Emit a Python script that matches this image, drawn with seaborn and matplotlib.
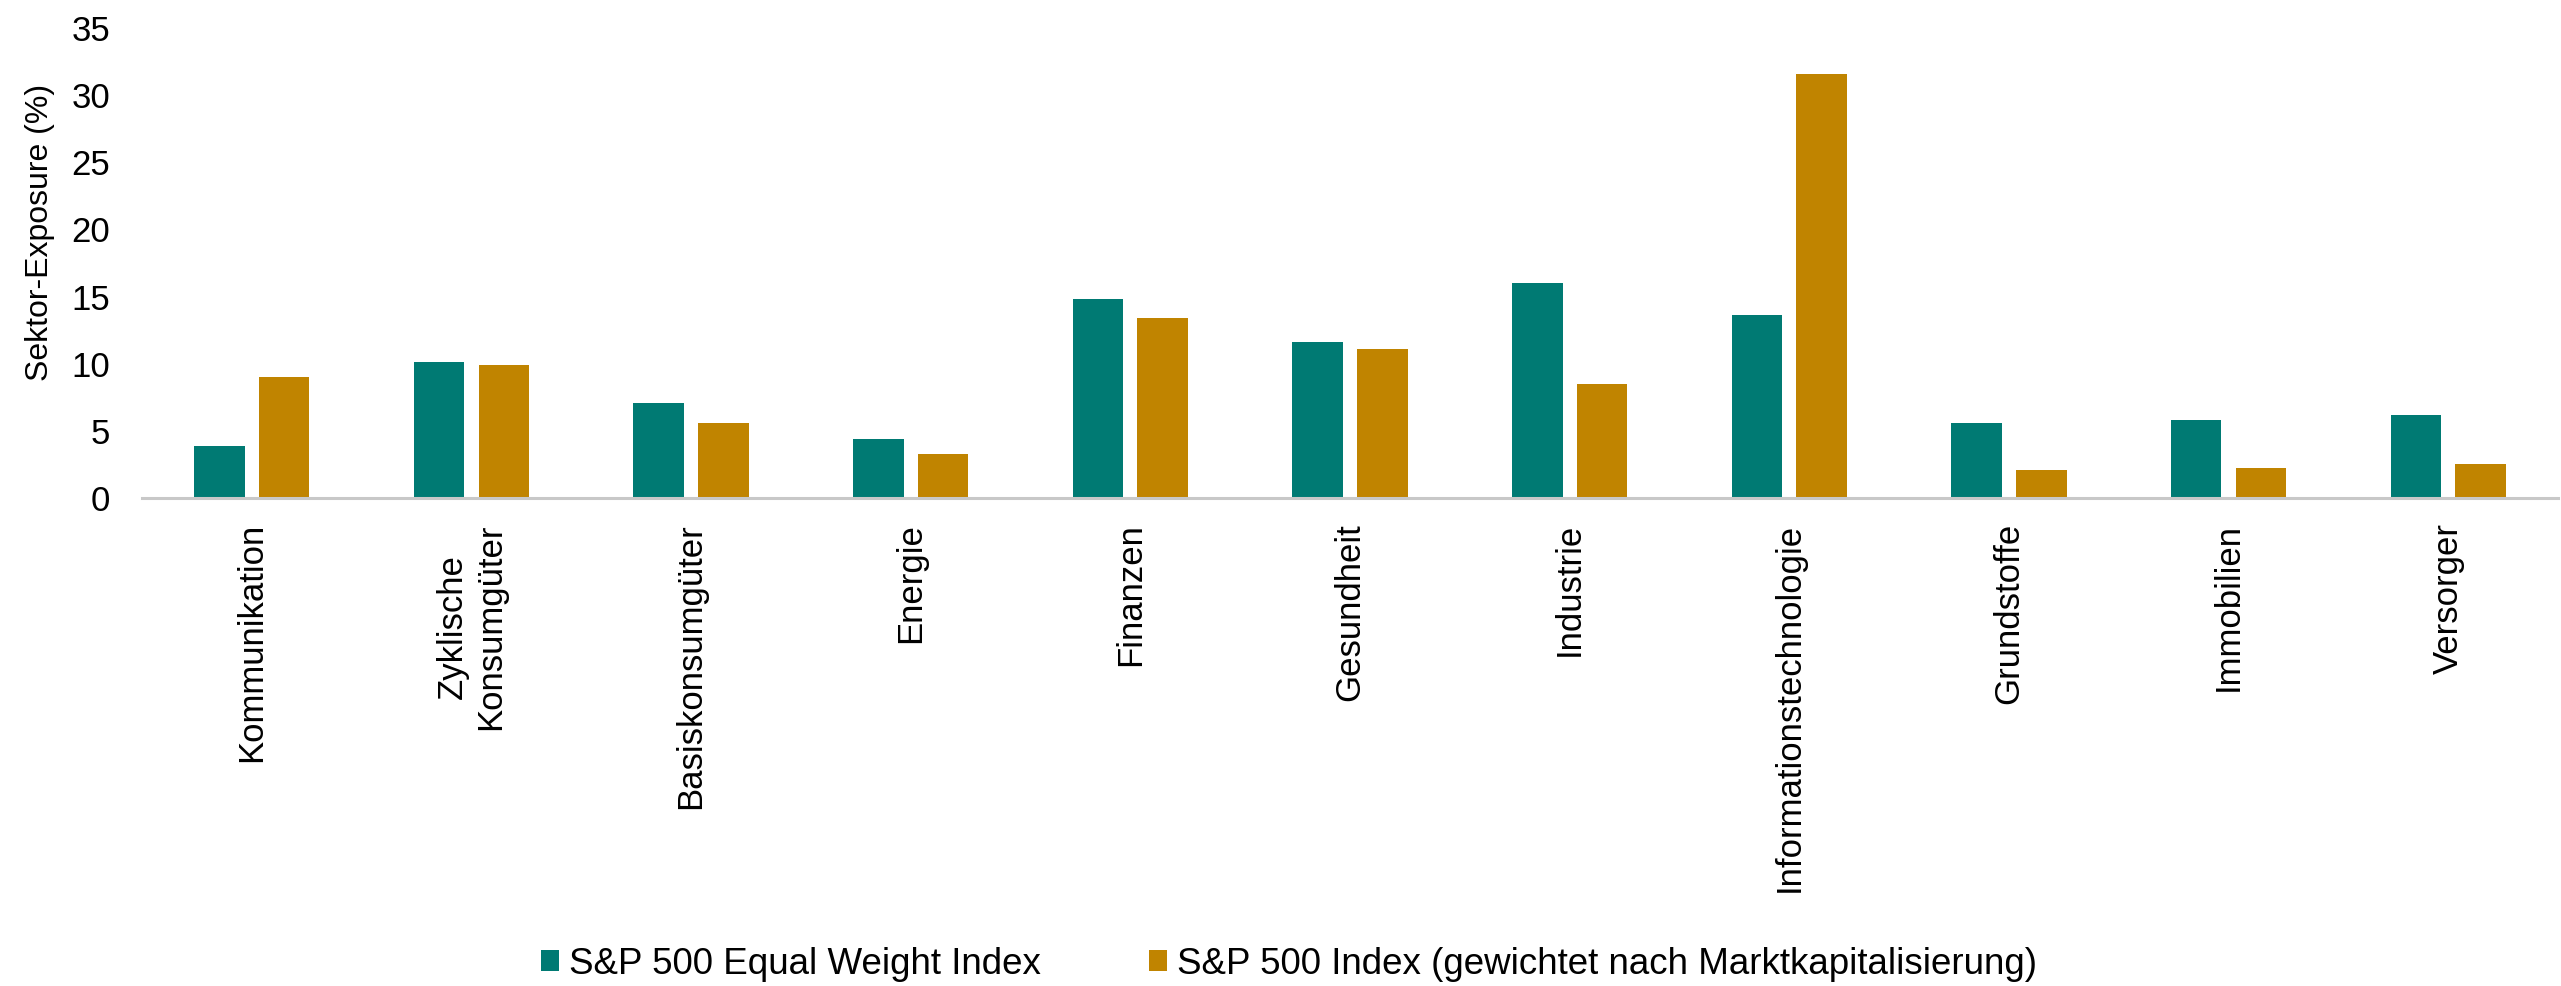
import matplotlib
matplotlib.use('Agg')
import matplotlib.pyplot as plt
import pandas as pd
import seaborn as sns

# sector exposure in percent
sectors = ['Kommunikation', 'Zyklische\nKonsumgüter', 'Basiskonsumgüter',
           'Energie', 'Finanzen', 'Gesundheit', 'Industrie',
           'Informationstechnologie', 'Grundstoffe', 'Immobilien',
           'Versorger']
equal_weight = [3.9, 10.1, 7.1, 4.4, 14.8, 11.6, 16.0, 13.6, 5.6, 5.8, 6.2]
cap_weight = [9.0, 9.9, 5.6, 3.3, 13.4, 11.1, 8.5, 31.6, 2.1, 2.2, 2.5]
series_names = ['S&P 500 Equal Weight Index',
                'S&P 500 Index (gewichtet nach Marktkapitalisierung)']
y_ticks = [0, 5, 10, 15, 20, 25, 30, 35]

colors = ['#007A73', '#C08400']

df = pd.DataFrame({
    'Sektor': sectors * 2,
    'Wert': equal_weight + cap_weight,
    'Index': [series_names[0]] * len(sectors) + [series_names[1]] * len(sectors),
})

sns.set_theme(style='white')
plt.rcParams['font.family'] = ['Liberation Sans', 'DejaVu Sans']

fig = plt.figure(figsize=(25.61, 9.86), dpi=100)
ax = fig.add_axes([142 / 2561, 1 - 498 / 986, 2416 / 2561, 470 / 986])

sns.barplot(data=df, x='Sektor', y='Wert', hue='Index', hue_order=series_names,
            palette=colors, saturation=1, width=0.59, gap=0.22,
            linewidth=0, ax=ax)

ax.set_ylim(0, 35)
ax.set_xlim(-0.5, len(sectors) - 0.5)
ax.set_yticks(y_ticks)
ax.set_yticklabels([str(t) for t in y_ticks], fontsize=25, color='black')
ax.set_xticks(range(len(sectors)))
ax.set_xticklabels(sectors, rotation=90, ha='center', va='top',
                   multialignment='center', fontsize=25, color='black')
ax.tick_params(axis='both', length=0)
ax.tick_params(axis='x', pad=18)
ax.tick_params(axis='y', pad=23)

ax.set_xlabel('')
ax.set_ylabel('Sektor-Exposure (%)', fontsize=23, color='black')
ax.yaxis.set_label_coords(-0.036, 0.566)

sns.despine(ax=ax, left=True, top=True, right=True)
ax.spines['bottom'].set_color('#C8C8C8')
ax.spines['bottom'].set_linewidth(2.2)

handles, labels = ax.get_legend_handles_labels()
ax.get_legend().remove()
fig.legend(handles, labels, loc='center',
           bbox_to_anchor=(1289 / 2561, 1 - 964 / 986),
           ncol=2, frameon=False, fontsize=26.5, labelcolor='black',
           handlelength=0.49, handleheight=0.54, handletextpad=0.27,
           columnspacing=2.93)

fig.savefig('out.png', dpi=100)
plt.close(fig)
